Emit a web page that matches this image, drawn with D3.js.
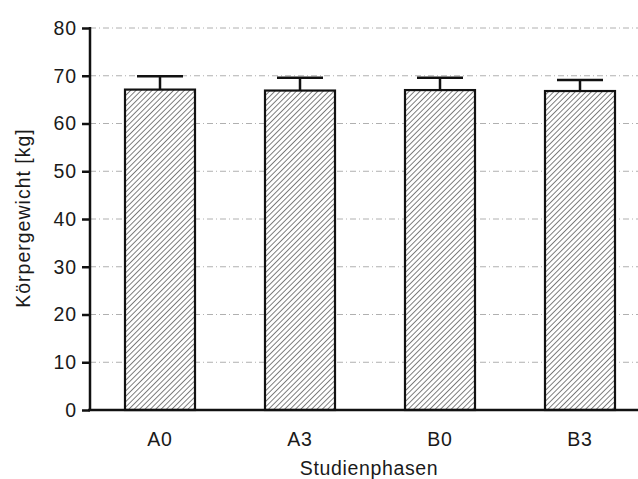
<!DOCTYPE html>
<html>
<head>
<meta charset="utf-8">
<script src="https://cdn.jsdelivr.net/npm/d3@7"></script>
<style>
  html, body { margin: 0; padding: 0; background: #fff; }
  svg { display: block; }
  text { font-family: "Liberation Sans", Arial, Helvetica, sans-serif; fill: #1a1a1a; }
</style>
</head>
<body>
<svg id="chart" width="638" height="479"></svg>
<script>
const categories = ["A0", "A3", "B0", "B3"];
const means = [67.1, 66.9, 67.0, 66.8];
const sds = [2.8, 2.7, 2.6, 2.3];
const yTicks = [0, 10, 20, 30, 40, 50, 60, 70, 80];
const yLabel = "Körpergewicht [kg]";
const xLabel = "Studienphasen";

const W = 638, H = 479;
const svg = d3.select("#chart");

const x = d3.scaleBand().domain(categories).range([90, 650])
  .paddingInner(0.5).paddingOuter(0.25);
const y = d3.scaleLinear().domain([0, 80]).range([410, 28]);

// hatch pattern
const defs = svg.append("defs");
const pat = defs.append("pattern")
  .attr("id", "hatch").attr("patternUnits", "userSpaceOnUse")
  .attr("width", 3.8).attr("height", 3.8)
  .attr("patternTransform", "rotate(45)");
pat.append("rect").attr("width", 3.8).attr("height", 3.8).attr("fill", "#fff");
pat.append("line").attr("x1", 0).attr("y1", 0).attr("x2", 0).attr("y2", 3.8)
  .attr("stroke", "#2a2a2a").attr("stroke-width", 1.2);

// gridlines
svg.append("g").selectAll("line").data(yTicks.filter(d => d > 0)).join("line")
  .attr("x1", 90).attr("x2", W)
  .attr("y1", d => y(d)).attr("y2", d => y(d))
  .attr("stroke", "#b0b0b0").attr("stroke-width", 1)
  .attr("stroke-dasharray", "6,3,1,3");

// bars
svg.append("g").selectAll("rect").data(categories).join("rect")
  .attr("x", d => x(d)).attr("width", x.bandwidth())
  .attr("y", (d, i) => y(means[i]))
  .attr("height", (d, i) => y(0) - y(means[i]))
  .attr("fill", "url(#hatch)").attr("stroke", "#111").attr("stroke-width", 2.2);

// error bars
const eb = svg.append("g").attr("stroke", "#111").attr("stroke-width", 2.5);
eb.selectAll("line.stem").data(categories).join("line").attr("class", "stem")
  .attr("x1", d => x(d) + x.bandwidth() / 2).attr("x2", d => x(d) + x.bandwidth() / 2)
  .attr("y1", (d, i) => y(means[i])).attr("y2", (d, i) => y(means[i] + sds[i]));
eb.selectAll("line.cap").data(categories).join("line").attr("class", "cap")
  .attr("x1", d => x(d) + x.bandwidth() / 2 - 23).attr("x2", d => x(d) + x.bandwidth() / 2 + 23)
  .attr("y1", (d, i) => y(means[i] + sds[i])).attr("y2", (d, i) => y(means[i] + sds[i]));

// y axis
const yAxis = svg.append("g").attr("transform", "translate(90,0)")
  .call(d3.axisLeft(y).tickValues(yTicks).tickSize(8).tickPadding(5).tickFormat(d3.format("d")));
yAxis.select(".domain").attr("stroke", "#111").attr("stroke-width", 2.5)
  .attr("d", `M0,${y(80) - 1}V${y(0)}`);
yAxis.selectAll(".tick line").attr("stroke", "#111").attr("stroke-width", 2.5);
yAxis.selectAll(".tick text").attr("font-size", 19.5).attr("letter-spacing", "0.9px")
  .style("font-family", '"Liberation Sans", Arial, sans-serif').attr("fill", "#1a1a1a");

// x axis
const xAxis = svg.append("g").attr("transform", `translate(0,${y(0)})`)
  .call(d3.axisBottom(x).tickSize(0).tickPadding(22));
xAxis.select(".domain").attr("stroke", "#111").attr("stroke-width", 2.5)
  .attr("d", `M88,0H${W}`);
xAxis.selectAll(".tick text").attr("font-size", 19.5).attr("letter-spacing", "0.9px")
  .style("font-family", '"Liberation Sans", Arial, sans-serif').attr("fill", "#1a1a1a");

// axis titles
svg.append("text").attr("transform", "translate(30,218) rotate(-90)")
  .attr("text-anchor", "middle").attr("font-size", 19.5).attr("letter-spacing", "1px")
  .text(yLabel);
svg.append("text").attr("x", 369).attr("y", 475)
  .attr("text-anchor", "middle").attr("font-size", 19.5).attr("letter-spacing", "0.65px")
  .text(xLabel);
</script>
</body>
</html>
